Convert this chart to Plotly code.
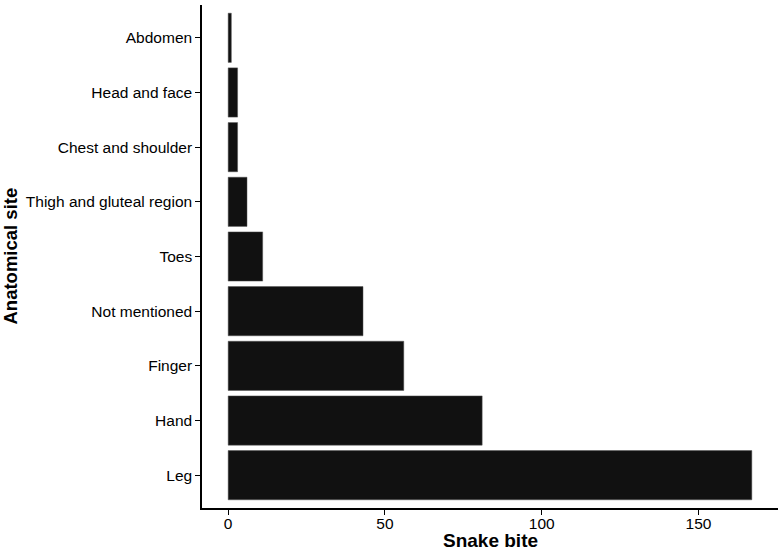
import plotly.graph_objects as go

sites = ["Leg", "Hand", "Finger", "Not mentioned", "Toes",
         "Thigh and gluteal region", "Chest and shoulder", "Head and face", "Abdomen"]
counts = [167, 81, 56, 43, 11, 6, 3, 3, 1]
x_ticks = [0, 50, 100, 150]

fig = go.Figure(go.Bar(
    x=counts, y=sites, orientation="h", width=0.9,
    marker=dict(color="#111111", line=dict(color="#555555", width=0.5)),
))

font = "Liberation Sans, Arial, Helvetica, sans-serif"
fig.update_layout(
    width=780, height=551,
    margin=dict(l=202, r=2, t=5, b=43),
    plot_bgcolor="white", paper_bgcolor="white",
    font=dict(family=font, color="black", size=15.5),
    showlegend=False,
    annotations=[
        dict(text="<b>Snake bite</b>", xref="paper", yref="paper", x=0.5, y=0,
             xanchor="center", yanchor="middle", yshift=-32.5, showarrow=False,
             font=dict(size=19, color="black")),
        dict(text="<b>Anatomical site</b>", xref="paper", yref="paper", x=0, y=0.5,
             xanchor="center", yanchor="middle", xshift=-192, textangle=-90,
             showarrow=False, font=dict(size=18.5, color="black")),
    ],
)
fig.update_xaxes(
    range=[-8.35, 175.35], tickvals=x_ticks, ticktext=[str(v) for v in x_ticks],
    showline=True, linecolor="black", linewidth=1.5, mirror=False,
    ticks="outside", ticklen=5, tickwidth=1.2, tickcolor="black",
    showgrid=False, zeroline=False, ticklabelstandoff=-4,
    tickfont=dict(size=15.5, color="black"),
)
fig.update_yaxes(
    type="category", categoryorder="array", categoryarray=sites,
    range=[-0.6, 8.6],
    showline=True, linecolor="black", linewidth=1.5,
    ticks="outside", ticklen=5, tickwidth=1.2, tickcolor="black",
    showgrid=False, zeroline=False,
    tickfont=dict(size=15.5, color="black"),
)
fig.write_html("out.html")
